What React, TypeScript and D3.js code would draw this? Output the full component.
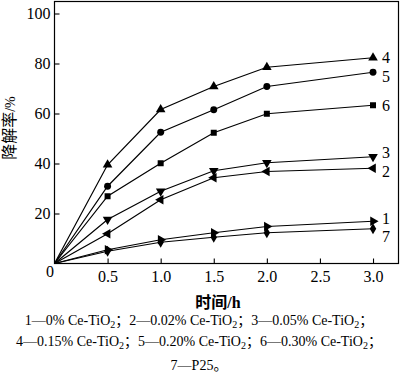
import React, { useRef, useEffect } from 'react';
import * as d3 from 'd3';

const times = [0, 0.5, 1.0, 1.5, 2.0, 3.0];
const s1 = [0, 5.5, 9.5, 12.3, 14.8, 16.9];
const s2 = [0, 11.9, 25.5, 34.3, 36.8, 38.1];
const s3 = [0, 17.6, 28.9, 37.1, 40.3, 42.7];
const s4 = [0, 39.5, 61.6, 70.8, 78.5, 82.3];
const s5 = [0, 30.9, 52.5, 61.5, 70.8, 76.5];
const s6 = [0, 26.9, 40.1, 52.3, 59.9, 63.3];
const s7 = [0, 4.9, 8.5, 10.5, 12.3, 13.9];
const seriesNames = ['1', '2', '3', '4', '5', '6', '7'];
const seriesDesc = ['0% Ce-TiO2', '0.02% Ce-TiO2', '0.05% Ce-TiO2', '0.15% Ce-TiO2', '0.20% Ce-TiO2', '0.30% Ce-TiO2', 'P25'];
const xTicks = [0.5, 1.0, 1.5, 2.0, 2.5, 3.0];
const yTicks = [20, 40, 60, 80, 100];
const xTitle = '时间/h';
const yTitle = '降解率';
const yUnit = '/%';

const FONT = "'Liberation Serif', 'Times New Roman', 'Noto Sans CJK SC', serif";

export default function App() {
  const svgRef = useRef<SVGSVGElement>(null);

  useEffect(() => {
    const svg = d3.select(svgRef.current);
    svg.selectAll('*').remove();

    const x = d3.scaleLinear().domain([0, 3.24]).range([54.5, 398.5]);
    const y = d3.scaleLinear().domain([0, 104.8]).range([263.5, 1.5]);

    // frame
    svg.append('rect')
      .attr('x', x(0)).attr('y', y(104.8))
      .attr('width', x(3.24) - x(0)).attr('height', y(0) - y(104.8))
      .attr('fill', 'none').attr('stroke', '#000').attr('stroke-width', 1.2);

    const xAxis = d3.axisBottom(x).tickValues(xTicks).tickSizeInner(-5).tickSizeOuter(0)
      .tickPadding(7).tickFormat(d3.format('.1f') as any);
    const yAxis = d3.axisLeft(y).tickValues(yTicks).tickSizeInner(-5).tickSizeOuter(0)
      .tickPadding(4).tickFormat(d3.format('d') as any);

    const gx = svg.append('g').attr('transform', `translate(0,${y(0)})`).call(xAxis);
    const gy = svg.append('g').attr('transform', `translate(${x(0)},0)`).call(yAxis);
    [gx, gy].forEach(g => {
      g.select('.domain').remove();
      g.selectAll('line').attr('stroke', '#000').attr('stroke-width', 1.1);
      g.selectAll('text').attr('font-family', FONT).attr('font-size', 16).attr('fill', '#000');
    });

    // origin label
    svg.append('text').attr('x', 50).attr('y', 277)
      .attr('text-anchor', 'middle').attr('font-family', FONT).attr('font-size', 16).text('0');

    const series = [s1, s2, s3, s4, s5, s6, s7];
    const rot = [90, -90, 180, 0, 0, 0, 0];
    const types = [d3.symbolTriangle, d3.symbolTriangle, d3.symbolTriangle, d3.symbolTriangle,
      d3.symbolCircle, d3.symbolSquare, d3.symbolDiamond];
    const sizes = [40, 40, 40, 40, 38, 36, 36];
    const labelDy = [-2.5, 3, -4.5, 0, 4.5, 0, 7.5];

    const line = d3.line<number>().x((d, i) => x(times[i])).y(d => y(d));

    series.forEach((vals, si) => {
      svg.append('path').datum(vals)
        .attr('d', line)
        .attr('fill', 'none').attr('stroke', '#000').attr('stroke-width', 1.2);

      svg.append('g').selectAll('path')
        .data(vals.slice(1))
        .enter().append('path')
        .attr('d', d3.symbol().type(types[si]).size(sizes[si]) as any)
        .attr('transform', (d, i) => `translate(${x(times[i + 1])},${y(d)}) rotate(${rot[si]})`)
        .attr('fill', '#000');

      svg.append('text')
        .attr('x', x(times[times.length - 1]) + 9)
        .attr('y', y(vals[vals.length - 1]) + labelDy[si])
        .attr('dy', '0.35em')
        .attr('font-family', FONT).attr('font-size', 16)
        .text(seriesNames[si]);
    });

    // axis titles
    svg.append('text').attr('x', 218).attr('y', 308)
      .attr('text-anchor', 'middle').attr('font-family', FONT).attr('font-size', 16)
      .attr('font-weight', 'bold').text(xTitle);

    const yt = svg.append('text').attr('transform', 'translate(15,128) rotate(-90)')
      .attr('text-anchor', 'middle').attr('font-family', FONT).attr('font-size', 16);
    yt.append('tspan').text(yTitle);
    yt.append('tspan').attr('font-size', 14).text(yUnit);

    // legend
    const rows = [[0, 1, 2], [3, 4, 5], [6]];
    const rowY = [325, 346, 370];
    rows.forEach((row, ri) => {
      const t = svg.append('text').attr('x', 199).attr('y', rowY[ri])
        .attr('text-anchor', 'middle').attr('font-family', FONT).attr('font-size', 14);
      row.forEach((si) => {
        const desc = seriesDesc[si];
        const sep = ri === rows.length - 1 ? '。' : '；';
        if (desc.endsWith('2')) {
          t.append('tspan').text(`${seriesNames[si]}—${desc.slice(0, -1)}`);
          t.append('tspan').attr('font-size', 10).attr('dy', 3).text('2');
          t.append('tspan').attr('dy', -3).text(sep);
        } else {
          t.append('tspan').text(`${seriesNames[si]}—${desc}${sep}`);
        }
      });
    });
  }, []);

  return (
    <div style={{ position: 'absolute', left: 0, top: 0 }}>
      <svg ref={svgRef} width={400} height={375} style={{ display: 'block', background: '#fff' }} />
    </div>
  );
}
